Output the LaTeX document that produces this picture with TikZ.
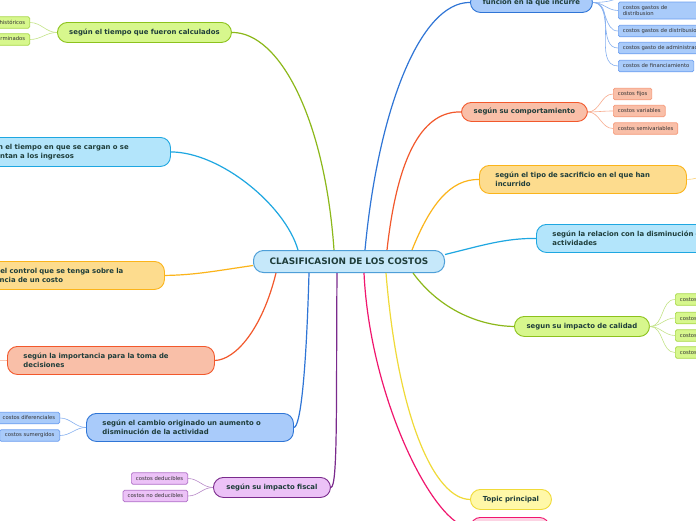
\documentclass[tikz,border=0pt]{standalone}
\usepackage{fontspec}
\setmainfont{DejaVu Sans}
\definecolor{txt}{HTML}{1E3D3A}
\definecolor{subtxt}{HTML}{333333}
\definecolor{grF}{HTML}{D7F78D}\definecolor{grD}{HTML}{8CC21C}\definecolor{grL}{HTML}{8CB81A}\definecolor{grS}{HTML}{A8D848}\definecolor{grC}{HTML}{C4E488}
\definecolor{cyF}{HTML}{B3E5FB}\definecolor{cyD}{HTML}{1EA7E1}
\definecolor{blF}{HTML}{A9CBFA}\definecolor{blD}{HTML}{2F75D6}\definecolor{blS}{HTML}{6D9FF0}\definecolor{blC}{HTML}{86B0F0}
\definecolor{saF}{HTML}{F9BFA8}\definecolor{saD}{HTML}{F2582C}\definecolor{saS}{HTML}{F59A7A}\definecolor{saC}{HTML}{F8AC8E}
\definecolor{orF}{HTML}{FDDC8E}\definecolor{orD}{HTML}{FBB41A}\definecolor{orC}{HTML}{FCD27A}
\definecolor{puF}{HTML}{ECC2F7}\definecolor{puD}{HTML}{7A2A8C}\definecolor{puS}{HTML}{B070C8}\definecolor{puC}{HTML}{B888C8}
\definecolor{yeF}{HTML}{FFF8A8}\definecolor{yeD}{HTML}{F0DA38}
\definecolor{piF}{HTML}{FCD3E3}\definecolor{piD}{HTML}{F0166E}
\definecolor{ceF}{HTML}{C6E8FA}\definecolor{ceD}{HTML}{4E9FD8}
\tikzset{
 topic/.style={draw, rounded corners=10pt, line width=0.9pt, font=\bfseries\fontsize{6.9}{9.5}\selectfont, text=txt, inner ysep=0pt, anchor=north west},
 subbox/.style={draw, rounded corners=1.5pt, line width=0.7pt, font=\fontsize{5.3}{6.6}\selectfont, text=subtxt, inner ysep=0pt, inner xsep=4.5pt, minimum height=11.5pt},
 mainline/.style={line width=1.2pt},
 subline/.style={line width=0.6pt},
}
\begin{document}
\begin{tikzpicture}[x=1pt,y=-1pt]
\useasboundingbox (0,0) rectangle (696,520);
\fill[white] (0,0) rectangle (696,520);
\clip (0,0) rectangle (696,520);

% central
\node[topic, font=\bfseries\fontsize{8.9}{10}\selectfont, fill=ceF, draw=ceD, line width=1pt, minimum height=22pt, text width=175pt, inner xsep=8pt, align=center] (c) at (253,250) {CLASIFICASION DE LOS COSTOS};

% left topics
\node[topic, fill=grF, draw=grD, minimum height=20pt, text width=158pt, inner xsep=8pt, align=center] (calc) at (57,22) {según el tiempo que fueron calculados};
\node[topic, fill=cyF, draw=cyD, minimum height=29pt, text width=175pt, inner xsep=16pt, align=left] (ing) at (-37,137) {según el tiempo en que se cargan o se\\enfrentan a los ingresos};
\node[topic, fill=orF, draw=orD, minimum height=28pt, text width=174pt, inner xsep=16pt, align=left] (ctl) at (-42,261) {según el control que se tenga sobre la\\ocurrencia de un costo};
\node[topic, fill=saF, draw=saD, minimum height=28pt, text width=175pt, inner xsep=16pt, align=left] (imp) at (7,346) {según la importancia para la toma de\\decisiones};
\node[topic, fill=blF, draw=blD, minimum height=28pt, text width=175pt, inner xsep=16pt, align=left] (cam) at (86,413) {según el cambio originado un aumento o\\disminución de la actividad};
\node[topic, fill=puF, draw=puD, minimum height=20pt, text width=101pt, inner xsep=8pt, align=center] (fis) at (213,477) {según su impacto fiscal};

% right topics
\node[topic, fill=blF, draw=blD, minimum height=20pt, text width=106pt, inner xsep=8pt, align=center] (fun) at (470,-8) {funcion en la que incurre};
\node[topic, fill=saF, draw=saD, minimum height=19pt, text width=110pt, inner xsep=8pt, align=center] (comp) at (461,102) {según su comportamiento};
\node[topic, fill=orF, draw=orD, minimum height=28pt, text width=175pt, inner xsep=16pt, align=left] (sac) at (479,165) {según el tipo de sacrificio en el que han\\incurrido};
\node[topic, fill=cyF, draw=cyD, minimum height=28pt, text width=175pt, inner xsep=16pt, align=left] (rel) at (536,224) {según la relacion con la disminución de\\actividades};
\node[topic, fill=grF, draw=grD, minimum height=20pt, text width=119pt, inner xsep=8pt, align=center] (cal) at (514,316) {segun su impacto de calidad};
\node[topic, fill=yeF, draw=yeD, minimum height=20pt, text width=65pt, inner xsep=8pt, align=center] (tp) at (470,489) {Topic principal};
\node[topic, fill=piF, draw=piD, minimum height=20pt, text width=63pt, inner xsep=8pt, align=center] (pk) at (470,517) {};

% main connectors
\draw[mainline, grL] ([xshift=-15pt]c.north) .. controls (325,120) and (280,32) .. (calc.east);
\draw[mainline, cyD] ([xshift=-51pt]c.north) .. controls (285,205) and (220,152) .. (ing.east);
\draw[mainline, orD] ([yshift=-4pt]c.west) .. controls (215,271) and (195,275) .. (ctl.east);
\draw[mainline, saD] ([xshift=-73pt]c.south) .. controls (262,330) and (235,360) .. (imp.east);
\draw[mainline, blD] ([xshift=-40pt]c.south) .. controls (306,380) and (300,427) .. (cam.east);
\draw[mainline, puD] ([xshift=-12pt]c.south) .. controls (336,400) and (338,487) .. (fis.east);
\draw[mainline, blD] ([xshift=16pt]c.north) .. controls (378,110) and (420,2) .. (fun.west);
\draw[mainline, saD] ([xshift=38pt]c.north) .. controls (398,150) and (425,111) .. (comp.west);
\draw[mainline, orD] ([xshift=63pt]c.north) .. controls (430,205) and (450,179) .. (sac.west);
\draw[mainline, cyD] ([yshift=7pt]c.east) .. controls (480,246) and (505,238) .. (rel.west);
\draw[mainline, grL] ([xshift=64pt]c.south) .. controls (440,310) and (480,326) .. (cal.west);
\draw[mainline, yeD] ([xshift=37pt]c.south) .. controls (398,420) and (435,499) .. (tp.west);
\draw[mainline, piD] ([xshift=15pt]c.south) .. controls (370,400) and (435,527) .. (pk.west);

% sub nodes left
\node[subbox, fill=grF, draw=grS, anchor=east] (h1) at (30,22.5) {costos históricos};
\node[subbox, fill=grF, draw=grS, anchor=east] (h2) at (30,39.5) {costos predeterminados};
\node[subbox, fill=blF, draw=blS, anchor=east] (dif) at (60,418) {costos diferenciales};
\node[subbox, fill=blF, draw=blS, anchor=east, minimum width=60pt] (sum) at (60,435.5) {costos sumergidos};
\node[subbox, fill=puF, draw=puS, anchor=east] (ded) at (188,478.5) {costos deducibles};
\node[subbox, fill=puF, draw=puS, anchor=east] (nod) at (188,496) {costos no deducibles};
\coordinate (impx) at (-25,360);

% sub nodes right
\node[subbox, fill=blF, draw=blS, anchor=west, align=left, text width=72pt, minimum height=17pt] (f1) at (618,10.5) {costos gastos de\\distribusion};
\node[subbox, fill=blF, draw=blS, anchor=west] (f2) at (618,31) {costos gastos de distribusion};
\node[subbox, fill=blF, draw=blS, anchor=west] (f3) at (618,48) {costos gasto de administracion};
\node[subbox, fill=blF, draw=blS, anchor=west] (f4) at (618,66) {costos de financiamiento};
\coordinate (f0) at (628,-14);
\node[subbox, fill=saF, draw=saS, anchor=west] (fij) at (613,94) {costos fijos};
\node[subbox, fill=saF, draw=saS, anchor=west] (var) at (613,111) {costos variables};
\node[subbox, fill=saF, draw=saS, anchor=west] (semi) at (613,128.5) {costos semivariables};
\coordinate (sacx) at (720,172);
\node[subbox, fill=grF, draw=grS, anchor=west] (q1) at (675,299.5) {costos de prevención};
\node[subbox, fill=grF, draw=grS, anchor=west] (q2) at (675,318) {costos de evaluación};
\node[subbox, fill=grF, draw=grS, anchor=west] (q3) at (675,335.5) {costos de fallas internas};
\node[subbox, fill=grF, draw=grS, anchor=west] (q4) at (675,352.5) {costos de fallas externas};

% sub connectors
\foreach \t in {h1,h2} \draw[subline, grC] (calc.west) to[out=180,in=0] (\t.east);
\foreach \t in {dif,sum} \draw[subline, blC] (cam.west) to[out=180,in=0] (\t.east);
\foreach \t in {ded,nod} \draw[subline, puC] (fis.west) to[out=180,in=0] (\t.east);
\draw[subline, saC] (imp.west) -- (impx);
\foreach \t in {f1,f2,f3,f4} \draw[subline, blC] (fun.east) to[out=0,in=180] (\t.west);
\draw[subline, blC] (fun.east) to[out=0,in=250] (f0);
\foreach \t in {fij,var,semi} \draw[subline, saC] (comp.east) to[out=0,in=180] (\t.west);
\draw[subline, orC] (sac.east) to[out=0,in=180] (sacx);
\foreach \t in {q1,q2,q3,q4} \draw[subline, grC] (cal.east) to[out=0,in=180] (\t.west);
\end{tikzpicture}
\end{document}
